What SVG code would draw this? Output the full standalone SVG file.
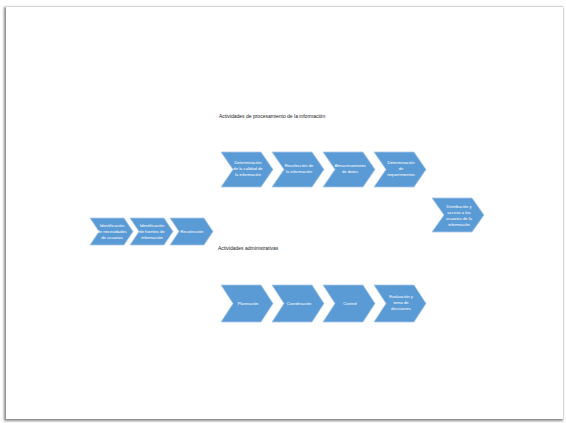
<svg xmlns="http://www.w3.org/2000/svg" width="566" height="423" viewBox="0 0 566 423">
<defs>
<style>
.chev{fill:#5b9bd5;stroke:#a9c8ea;stroke-width:0.8}
.t{font-family:"Liberation Sans",Arial,sans-serif;font-size:4.2px;fill:#ffffff;text-anchor:middle}
.h{font-family:"Liberation Sans",Arial,sans-serif;font-size:5px;fill:#222222}
</style>
<filter id="sh" x="-5%" y="-5%" width="110%" height="110%">
<feGaussianBlur stdDeviation="1.2"/>
</filter>
</defs>
<rect width="566" height="423" fill="#ffffff"/>
<g id="page">
<rect x="4" y="7" width="559" height="414" fill="#8a8a8a" filter="url(#sh)"/>
<rect x="6" y="6" width="557" height="413" fill="#ffffff"/>
<line x1="6" y1="6.5" x2="563" y2="6.5" stroke="#d8d8d8" stroke-width="1"/>
</g>
<text class="h" x="219" y="118">Actividades de procesamiento de la información</text>
<text class="h" x="218" y="250">Actividades administrativas</text>
<g id="connectors"></g>
<g id="n1"><path class="chev" d="M221,152 L261,152 L273,169.5 L261,187 L221,187 L233,169.5 Z"/>
<text class="t" x="248" y="164">Determinación</text><text class="t" x="248" y="170">de la calidad de</text><text class="t" x="248" y="176">la información</text></g>
<g id="n2"><path class="chev" d="M272,152 L312,152 L324,169.5 L312,187 L272,187 L284,169.5 Z"/>
<text class="t" x="299" y="167">Recolección de</text><text class="t" x="299" y="173">la información</text></g>
<g id="n3"><path class="chev" d="M323,152 L363,152 L375,169.5 L363,187 L323,187 L335,169.5 Z"/>
<text class="t" x="350" y="167">Almacenamiento</text><text class="t" x="350" y="173">de datos</text></g>
<g id="n4"><path class="chev" d="M374,152 L414,152 L426,169.5 L414,187 L374,187 L386,169.5 Z"/>
<text class="t" x="401" y="164">Determinación</text><text class="t" x="401" y="170">de</text><text class="t" x="401" y="176">requerimientos</text></g>
<g id="n5"><path class="chev" d="M432,198 L472,198 L484,215 L472,232 L432,232 L444,215 Z"/>
<text class="t" x="459" y="208">Distribución y</text><text class="t" x="459" y="214">acceso a los</text><text class="t" x="459" y="220">usuarios de la</text><text class="t" x="459" y="226">información</text></g>
<g id="n6"><path class="chev" d="M90,218 L124,218 L133,231.5 L124,245 L90,245 L99,231.5 Z"/>
<text class="t" x="112" y="227">Identificación</text><text class="t" x="112" y="233">de necesidades</text><text class="t" x="112" y="239">de usuarios</text></g>
<g id="n7"><path class="chev" d="M130,218 L164,218 L173,231.5 L164,245 L130,245 L139,231.5 Z"/>
<text class="t" x="152" y="227">Identificación</text><text class="t" x="152" y="233">de fuentes de</text><text class="t" x="152" y="239">información</text></g>
<g id="n8"><path class="chev" d="M170,218 L204,218 L213,231.5 L204,245 L170,245 L179,231.5 Z"/>
<text class="t" x="192" y="233">Recolección</text></g>
<g id="n9"><path class="chev" d="M221,285 L261,285 L273,303.5 L261,322 L221,322 L233,303.5 Z"/>
<text class="t" x="248" y="305">Planeación</text></g>
<g id="n10"><path class="chev" d="M272,285 L312,285 L324,303.5 L312,322 L272,322 L284,303.5 Z"/>
<text class="t" x="299" y="305">Coordinación</text></g>
<g id="n11"><path class="chev" d="M323,285 L363,285 L375,303.5 L363,322 L323,322 L335,303.5 Z"/>
<text class="t" x="350" y="305">Control</text></g>
<g id="n12"><path class="chev" d="M374,285 L414,285 L426,303.5 L414,322 L374,322 L386,303.5 Z"/>
<text class="t" x="401" y="298">Evaluación y</text><text class="t" x="401" y="304">toma de</text><text class="t" x="401" y="310">decisiones</text></g>
</svg>
